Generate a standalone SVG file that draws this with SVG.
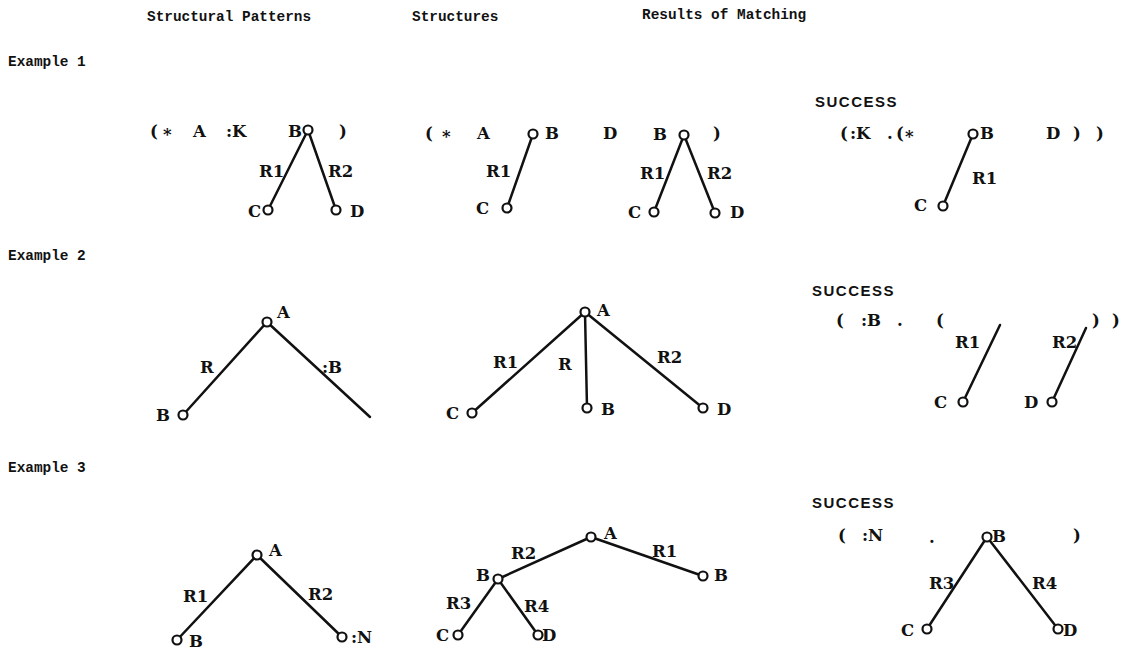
<svg xmlns="http://www.w3.org/2000/svg" width="1139" height="650" viewBox="0 0 1139 650">
<style>
.h{font-family:"Liberation Mono",monospace;font-size:14.4px;font-weight:bold;fill:#111}
.t{font-family:"DejaVu Serif","Liberation Serif",serif;font-size:16.5px;font-weight:bold;fill:#111}
.s{font-family:"Liberation Sans",Arial,sans-serif;font-size:15px;font-weight:bold;letter-spacing:1.5px;fill:#111}
.e line{stroke:#111;stroke-width:2.5;stroke-linecap:round}
circle{fill:#fff;stroke:#111;stroke-width:2.2}
</style>
<rect width="1139" height="650" fill="#fff"/>
<g id="headers">
<text class="h" x="147" y="21">Structural Patterns</text>
<text class="h" x="412" y="21">Structures</text>
<text class="h" x="642" y="19">Results of Matching</text>
<text class="h" x="8" y="66">Example 1</text>
<text class="h" x="8" y="260">Example 2</text>
<text class="h" x="8" y="472">Example 3</text>
</g>
<g id="connectors" class="e">
<line x1="308" y1="130" x2="268" y2="210"/>
<line x1="308" y1="130" x2="336" y2="210"/>
<line x1="533" y1="134" x2="507" y2="208"/>
<line x1="684" y1="135" x2="654" y2="212"/>
<line x1="684" y1="135" x2="715" y2="213"/>
<line x1="973" y1="134" x2="943" y2="206"/>
<line x1="267" y1="322" x2="183" y2="415"/>
<line x1="267" y1="322" x2="370" y2="417"/>
<line x1="585" y1="312" x2="472" y2="413"/>
<line x1="585" y1="312" x2="587" y2="408"/>
<line x1="585" y1="312" x2="703" y2="408"/>
<line x1="1000" y1="325" x2="963" y2="402"/>
<line x1="1086" y1="328" x2="1052" y2="402"/>
<line x1="257" y1="555" x2="177" y2="640"/>
<line x1="257" y1="555" x2="342" y2="637"/>
<line x1="591" y1="537" x2="498" y2="579"/>
<line x1="591" y1="537" x2="703" y2="576"/>
<line x1="498" y1="579" x2="458" y2="635"/>
<line x1="498" y1="579" x2="538" y2="635"/>
<line x1="987" y1="537" x2="927" y2="629"/>
<line x1="987" y1="537" x2="1058" y2="629"/>
</g>
<g id="edge-labels">
<text class="t" x="259" y="177">R1</text>
<text class="t" x="328" y="177">R2</text>
<text class="t" x="486" y="177">R1</text>
<text class="t" x="640" y="179">R1</text>
<text class="t" x="707" y="179">R2</text>
<text class="t" x="972" y="184">R1</text>
<text class="t" x="200" y="373">R</text>
<text class="t" x="322" y="373">:B</text>
<text class="t" x="493" y="368">R1</text>
<text class="t" x="558" y="370">R</text>
<text class="t" x="657" y="363">R2</text>
<text class="t" x="955" y="348">R1</text>
<text class="t" x="1052" y="348">R2</text>
<text class="t" x="183" y="602">R1</text>
<text class="t" x="308" y="600">R2</text>
<text class="t" x="511" y="559">R2</text>
<text class="t" x="652" y="557">R1</text>
<text class="t" x="446" y="609">R3</text>
<text class="t" x="524" y="612">R4</text>
<text class="t" x="929" y="589">R3</text>
<text class="t" x="1032" y="589">R4</text>
</g>
<g id="ex1-pattern">
<text class="t" x="150" y="137">(</text>
<text class="t" x="163" y="140">*</text>
<text class="t" x="193" y="137">A</text>
<text class="t" x="226" y="137">:K</text>
<text class="t" x="339" y="137">)</text>
<g id="ex1p-B"><circle cx="308" cy="130" r="4.5"/><text class="t" x="288" y="137">B</text></g>
<g id="ex1p-C"><circle cx="268" cy="210" r="4.5"/><text class="t" x="248" y="217">C</text></g>
<g id="ex1p-D"><circle cx="336" cy="210" r="4.5"/><text class="t" x="350" y="217">D</text></g>
</g>
<g id="ex1-structures">
<text class="t" x="425" y="139">(</text>
<text class="t" x="442" y="142">*</text>
<text class="t" x="477" y="139">A</text>
<text class="t" x="603" y="139">D</text>
<text class="t" x="713" y="139">)</text>
<g id="ex1s-B1"><circle cx="533" cy="134" r="4.5"/><text class="t" x="545" y="139">B</text></g>
<g id="ex1s-C1"><circle cx="507" cy="208" r="4.5"/><text class="t" x="476" y="214">C</text></g>
<g id="ex1s-B2"><circle cx="684" cy="135" r="4.5"/><text class="t" x="653" y="140">B</text></g>
<g id="ex1s-C2"><circle cx="654" cy="212" r="4.5"/><text class="t" x="628" y="218">C</text></g>
<g id="ex1s-D2"><circle cx="715" cy="213" r="4.5"/><text class="t" x="730" y="218">D</text></g>
</g>
<g id="ex1-result">
<text class="s" x="815" y="107">SUCCESS</text>
<text class="t" x="840" y="139">(</text>
<text class="t" x="850" y="139">:K</text>
<text class="t" x="887" y="139">.</text>
<text class="t" x="896" y="139">(</text>
<text class="t" x="905" y="142">*</text>
<text class="t" x="1046" y="139">D</text>
<text class="t" x="1073" y="139">)</text>
<text class="t" x="1096" y="139">)</text>
<g id="ex1r-B"><circle cx="973" cy="134" r="4.5"/><text class="t" x="980" y="139">B</text></g>
<g id="ex1r-C"><circle cx="943" cy="206" r="4.5"/><text class="t" x="914" y="211">C</text></g>
</g>
<g id="ex2-pattern">
<g id="ex2p-A"><circle cx="267" cy="322" r="4.5"/><text class="t" x="277" y="318">A</text></g>
<g id="ex2p-B"><circle cx="183" cy="415" r="4.5"/><text class="t" x="156" y="421">B</text></g>
</g>
<g id="ex2-structure">
<g id="ex2s-A"><circle cx="585" cy="312" r="4.5"/><text class="t" x="597" y="316">A</text></g>
<g id="ex2s-C"><circle cx="472" cy="413" r="4.5"/><text class="t" x="446" y="419">C</text></g>
<g id="ex2s-B"><circle cx="587" cy="408" r="4.5"/><text class="t" x="601" y="415">B</text></g>
<g id="ex2s-D"><circle cx="703" cy="408" r="4.5"/><text class="t" x="717" y="415">D</text></g>
</g>
<g id="ex2-result">
<text class="s" x="812" y="296">SUCCESS</text>
<text class="t" x="836" y="326">(</text>
<text class="t" x="861" y="326">:B</text>
<text class="t" x="897" y="326">.</text>
<text class="t" x="936" y="326">(</text>
<text class="t" x="1092" y="326">)</text>
<text class="t" x="1112" y="326">)</text>
<g id="ex2r-C"><circle cx="963" cy="402" r="4.5"/><text class="t" x="934" y="408">C</text></g>
<g id="ex2r-D"><circle cx="1052" cy="402" r="4.5"/><text class="t" x="1024" y="408">D</text></g>
</g>
<g id="ex3-pattern">
<g id="ex3p-A"><circle cx="257" cy="555" r="4.5"/><text class="t" x="269" y="556">A</text></g>
<g id="ex3p-B"><circle cx="177" cy="640" r="4.5"/><text class="t" x="189" y="647">B</text></g>
<g id="ex3p-N"><circle cx="342" cy="637" r="4.5"/><text class="t" x="351" y="643">:N</text></g>
</g>
<g id="ex3-structure">
<g id="ex3s-A"><circle cx="591" cy="537" r="4.5"/><text class="t" x="604" y="539">A</text></g>
<g id="ex3s-B1"><circle cx="498" cy="579" r="4.5"/><text class="t" x="476" y="581">B</text></g>
<g id="ex3s-B2"><circle cx="703" cy="576" r="4.5"/><text class="t" x="714" y="581">B</text></g>
<g id="ex3s-C"><circle cx="458" cy="635" r="4.5"/><text class="t" x="436" y="641">C</text></g>
<g id="ex3s-D"><circle cx="538" cy="635" r="4.5"/><text class="t" x="542" y="641">D</text></g>
</g>
<g id="ex3-result">
<text class="s" x="812" y="508">SUCCESS</text>
<text class="t" x="838" y="541">(</text>
<text class="t" x="862" y="541">:N</text>
<text class="t" x="929" y="543">.</text>
<text class="t" x="1073" y="541">)</text>
<g id="ex3r-B"><circle cx="987" cy="537" r="4.5"/><text class="t" x="992" y="542">B</text></g>
<g id="ex3r-C"><circle cx="927" cy="629" r="4.5"/><text class="t" x="901" y="636">C</text></g>
<g id="ex3r-D"><circle cx="1058" cy="629" r="4.5"/><text class="t" x="1063" y="636">D</text></g>
</g>
</svg>
